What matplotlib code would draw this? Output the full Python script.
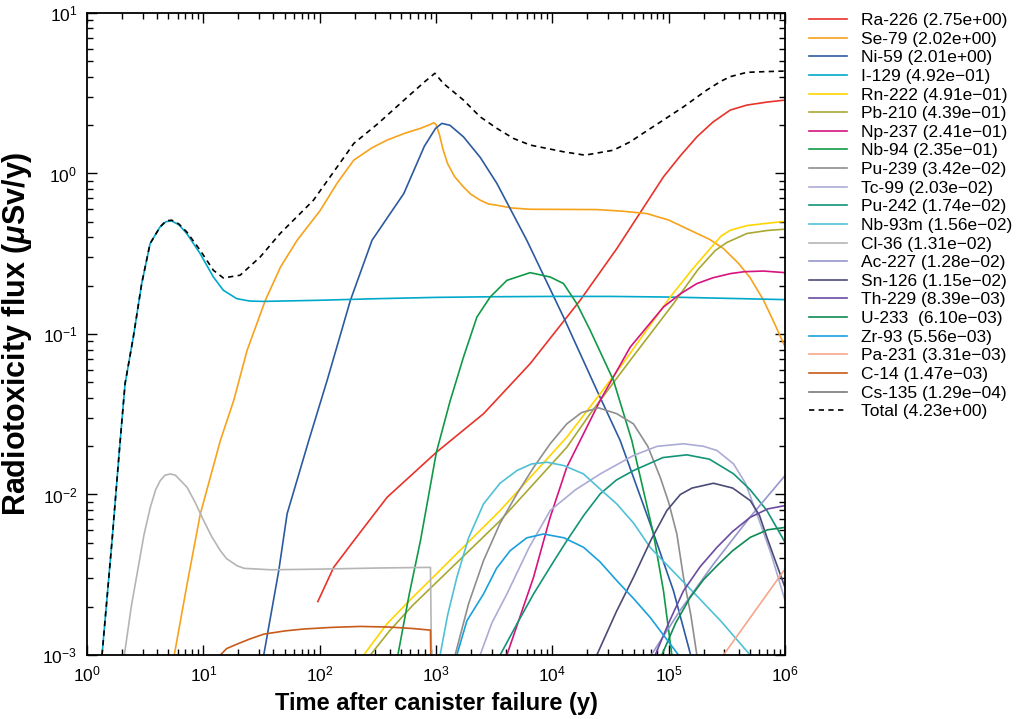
import matplotlib
matplotlib.use('Agg')
import matplotlib.pyplot as plt
import matplotlib.ticker as ticker
import numpy as np

plt.rcParams['font.family'] = ['Liberation Sans', 'DejaVu Sans']
plt.rcParams['mathtext.fontset'] = 'custom'
plt.rcParams['mathtext.rm'] = 'Liberation Sans'
plt.rcParams['mathtext.it'] = 'Liberation Sans:italic:bold'
plt.rcParams['mathtext.bf'] = 'Liberation Sans:bold'

# Werte: log10(Zeit in a) und log10(Fluss in uSv/a)
ra226_t = [1.984, 2.12, 2.293, 2.58, 3.003, 3.408, 3.809, 4.239, 4.554, 4.955, 5.1, 5.242, 5.38, 5.529, 5.672, 5.85, 6.0]
ra226_v = [-2.667, -2.454, -2.288, -2.017, -1.737, -1.497, -1.185, -0.79, -0.468, -0.021, 0.11, 0.228, 0.32, 0.395, 0.426, 0.445, 0.457]

se79_t = [0.75, 0.86, 0.974, 1.146, 1.261, 1.376, 1.533, 1.663, 1.806, 2.006, 2.15, 2.293, 2.45, 2.58, 2.73, 2.866, 2.95, 2.98,
          3.0, 3.03, 3.06, 3.1, 3.16, 3.236, 3.3, 3.379, 3.45, 3.523, 3.65, 3.809, 4.383, 4.6, 4.812, 5.0, 5.185,
          5.35, 5.471, 5.6, 5.70, 5.815, 5.9, 6.0]
se79_v = [-3.0, -2.558, -2.121, -1.664, -1.414, -1.102, -0.79, -0.583, -0.416, -0.229, -0.06, 0.083, 0.16, 0.208, 0.25, 0.281, 0.305, 0.316,
          0.305, 0.24, 0.15, 0.06, -0.02, -0.084, -0.13, -0.166, -0.19, -0.198, -0.215, -0.223, -0.225, -0.235, -0.25, -0.29, -0.354,
          -0.41, -0.468, -0.56, -0.65, -0.79, -0.92, -1.08]

ni59_t = [1.519, 1.648, 1.72, 1.906, 2.064, 2.264, 2.45, 2.723, 2.9, 2.995, 3.05, 3.12, 3.236, 3.38, 3.523, 3.78,
          4.096, 4.383, 4.583, 4.841, 5.041, 5.185]
ni59_v = [-3.0, -2.475, -2.12, -1.664, -1.289, -0.79, -0.416, -0.125, 0.17, 0.28, 0.312, 0.30, 0.228, 0.1, -0.062, -0.416,
          -0.895, -1.352, -1.664, -2.183, -2.6, -2.99]

i129_t = [0.129, 0.215, 0.278, 0.327, 0.398, 0.47, 0.542, 0.628, 0.68, 0.728, 0.79, 0.857, 0.972, 1.086, 1.172, 1.287,
          1.4, 1.516, 2.0, 2.5, 3.0, 3.5, 4.0, 4.5, 5.0, 5.5, 6.0]
i129_v = [-3.0, -2.288, -1.726, -1.31, -1.019, -0.686, -0.437, -0.333, -0.30, -0.296, -0.32, -0.374, -0.499, -0.645, -0.728, -0.78,
          -0.795, -0.797, -0.79, -0.78, -0.772, -0.768, -0.766, -0.766, -0.77, -0.778, -0.786]

rn222_t = [2.379, 2.45, 2.577, 2.8, 3.003, 3.551, 4.124, 4.411, 4.626, 5.013, 5.2, 5.357, 5.45, 5.529, 5.672, 5.85, 6.0]
rn222_v = [-3.0, -2.93, -2.807, -2.64, -2.495, -2.1, -1.643, -1.372, -1.164, -0.77, -0.6, -0.468, -0.39, -0.354, -0.325, -0.31, -0.298]

pb210_t = [2.436, 2.6, 2.8, 3.003, 3.551, 4.124, 4.325, 4.669, 5.041, 5.25, 5.40, 5.50, 5.672, 5.85, 6.0]
pb210_v = [-3.0, -2.85, -2.69, -2.548, -2.163, -1.706, -1.497, -1.164, -0.811, -0.6, -0.48, -0.43, -0.374, -0.355, -0.347]

np237_t = [3.609, 3.838, 3.981, 4.124, 4.411, 4.669, 4.955, 5.1, 5.242, 5.38, 5.529, 5.65, 5.815, 6.0]
np237_v = [-3.0, -2.516, -2.142, -1.83, -1.414, -1.082, -0.832, -0.75, -0.686, -0.65, -0.624, -0.612, -0.608, -0.618]

nb94_t = [2.672, 2.77, 2.866, 3.003, 3.12, 3.236, 3.351, 3.465, 3.609, 3.809, 3.981, 4.096, 4.21, 4.325, 4.525, 4.683,
          4.869, 4.955, 5.027]
nb94_v = [-3.0, -2.62, -2.288, -1.737, -1.42, -1.144, -0.895, -0.77, -0.666, -0.618, -0.645, -0.686, -0.811, -0.977, -1.289, -1.664,
          -2.246, -2.6, -3.0]

pu239_t = [3.164, 3.28, 3.408, 3.55, 3.695, 3.84, 3.981, 4.124, 4.25, 4.397, 4.554, 4.697, 4.82, 4.927, 5.0, 5.07, 5.127, 5.19, 5.242]
pu239_v = [-3.0, -2.68, -2.412, -2.18, -1.996, -1.83, -1.684, -1.56, -1.49, -1.46, -1.497, -1.56, -1.70, -1.893, -2.05, -2.246, -2.516, -2.75, -3.0]

tc99_t = [3.379, 3.48, 3.609, 3.8, 3.981, 4.2, 4.411, 4.697, 4.9, 5.127, 5.3, 5.415, 5.557, 5.66, 5.758, 5.88, 6.0]
tc99_v = [-3.0, -2.8, -2.62, -2.33, -2.1, -1.97, -1.872, -1.757, -1.70, -1.684, -1.70, -1.726, -1.809, -1.93, -2.121, -2.37, -2.66]

pu242_t = [3.551, 3.7, 3.838, 4.0, 4.124, 4.27, 4.411, 4.55, 4.697, 4.95, 5.156, 5.35, 5.557, 5.7, 5.844, 6.0]
pu242_v = [-3.0, -2.8, -2.62, -2.43, -2.288, -2.13, -1.996, -1.91, -1.851, -1.77, -1.753, -1.78, -1.871, -1.97, -2.1, -2.298]

nb93m_t = [3.035, 3.1, 3.179, 3.28, 3.408, 3.55, 3.695, 3.82, 3.953, 4.1, 4.268, 4.41, 4.554, 4.7, 4.841, 5.0, 5.2, 5.45, 5.70]
nb93m_v = [-3.0, -2.75, -2.516, -2.27, -2.059, -1.93, -1.851, -1.81, -1.799, -1.82, -1.872, -1.966, -2.059, -2.18, -2.33, -2.45, -2.6, -2.79, -3.0]

cl36_t = [0.321, 0.38, 0.43, 0.49, 0.544, 0.59, 0.63, 0.67, 0.716, 0.76, 0.86, 0.93, 1.003, 1.07, 1.146, 1.2, 1.29, 1.35,
          1.576, 2.0, 2.5, 2.952, 2.965]
cl36_v = [-3.0, -2.7, -2.495, -2.25, -2.08, -1.97, -1.913, -1.88, -1.872, -1.88, -1.955, -2.05, -2.163, -2.26, -2.35, -2.40, -2.444, -2.46,
          -2.469, -2.465, -2.458, -2.454, -3.3]

ac227_t = [4.85, 5.1, 5.385, 5.7, 6.0]
ac227_v = [-3.0, -2.72, -2.433, -2.14, -1.882]

sn126_t = [4.382, 4.55, 4.697, 4.85, 4.984, 5.1, 5.2, 5.385, 5.55, 5.701, 5.78, 5.844, 5.92, 6.0]
sn126_v = [-3.0, -2.73, -2.516, -2.28, -2.1, -2.0, -1.96, -1.93, -1.96, -2.038, -2.13, -2.267, -2.42, -2.58]

th229_t = [4.884, 5.0, 5.127, 5.27, 5.415, 5.55, 5.701, 5.85, 6.0]
th229_v = [-3.0, -2.8, -2.6, -2.45, -2.329, -2.23, -2.142, -2.09, -2.069]

u233_t = [4.941, 5.06, 5.185, 5.3, 5.415, 5.55, 5.701, 5.85, 6.0]
u233_v = [-3.0, -2.8, -2.641, -2.53, -2.444, -2.35, -2.267, -2.22, -2.205]

zr93_t = [3.179, 3.265, 3.408, 3.52, 3.637, 3.78, 3.924, 4.1, 4.268, 4.41, 4.554, 4.7, 4.841, 5.084]
zr93_v = [-3.0, -2.787, -2.62, -2.46, -2.35, -2.27, -2.246, -2.27, -2.329, -2.42, -2.537, -2.65, -2.766, -3.0]

pa231_t = [5.471, 6.0]
pa231_v = [-3.0, -2.464]

c14_t = [1.146, 1.2, 1.29, 1.4, 1.519, 1.7, 1.863, 2.1, 2.35, 2.6, 2.8, 2.952, 2.96]
c14_v = [-3.0, -2.96, -2.932, -2.90, -2.87, -2.85, -2.838, -2.828, -2.822, -2.826, -2.835, -2.845, -3.3]

cs135_t = [3.0, 4.0, 5.0, 6.0]
cs135_v = [-5.5, -4.5, -4.0, -3.89]

total_t = [0.129, 0.215, 0.278, 0.327, 0.398, 0.47, 0.542, 0.628, 0.68, 0.728, 0.79, 0.857, 0.972, 1.086, 1.172, 1.316,
           1.489, 1.66, 1.946, 2.233, 2.293, 2.5, 2.751, 2.9, 2.99, 3.063, 3.236, 3.379, 3.523, 3.666, 3.809, 4.096,
           4.28, 4.525, 4.669, 4.8, 4.955, 5.127, 5.328, 5.45, 5.529, 5.672, 5.815, 6.0]
total_v = [-3.0, -2.288, -1.726, -1.31, -1.019, -0.686, -0.437, -0.333, -0.295, -0.291, -0.315, -0.364, -0.478, -0.603, -0.651, -0.634,
           -0.52, -0.374, -0.167, 0.125, 0.187, 0.31, 0.474, 0.57, 0.624, 0.561, 0.457, 0.353, 0.281, 0.218, 0.177, 0.135,
           0.114, 0.145, 0.197, 0.26, 0.333, 0.415, 0.52, 0.575, 0.603, 0.63, 0.634, 0.638]

nuklide = [
    ('Ra-226 (2.75e+00)', ra226_t, ra226_v, '#e8332a'),
    ('Se-79 (2.02e+00)', se79_t, se79_v, '#f7a21b'),
    ('Ni-59 (2.01e+00)', ni59_t, ni59_v, '#2c5aa0'),
    ('I-129 (4.92e\u221201)', i129_t, i129_v, '#00a9cc'),
    ('Rn-222 (4.91e\u221201)', rn222_t, rn222_v, '#ffd500'),
    ('Pb-210 (4.39e\u221201)', pb210_t, pb210_v, '#a8a832'),
    ('Np-237 (2.41e\u221201)', np237_t, np237_v, '#d6137f'),
    ('Nb-94 (2.35e\u221201)', nb94_t, nb94_v, '#109a48'),
    ('Pu-239 (3.42e\u221202)', pu239_t, pu239_v, '#8e8e8e'),
    ('Tc-99 (2.03e\u221202)', tc99_t, tc99_v, '#ababd6'),
    ('Pu-242 (1.74e\u221202)', pu242_t, pu242_v, '#139477'),
    ('Nb-93m (1.56e\u221202)', nb93m_t, nb93m_v, '#4fc1d6'),
    ('Cl-36 (1.31e\u221202)', cl36_t, cl36_v, '#b5b5b5'),
    ('Ac-227 (1.28e\u221202)', ac227_t, ac227_v, '#9696cc'),
    ('Sn-126 (1.15e\u221202)', sn126_t, sn126_v, '#4b4b78'),
    ('Th-229 (8.39e\u221203)', th229_t, th229_v, '#6b4ba0'),
    ('U-233  (6.10e\u221203)', u233_t, u233_v, '#0e8a55'),
    ('Zr-93 (5.56e\u221203)', zr93_t, zr93_v, '#1aa0dc'),
    ('Pa-231 (3.31e\u221203)', pa231_t, pa231_v, '#f6a78a'),
    ('C-14 (1.47e\u221203)', c14_t, c14_v, '#c85a1a'),
    ('Cs-135 (1.29e\u221204)', cs135_t, cs135_v, '#7a7a7a'),
]

x_dekaden = [1e0, 1e1, 1e2, 1e3, 1e4, 1e5, 1e6]
y_dekaden = [1e-3, 1e-2, 1e-1, 1e0, 1e1]

fig = plt.figure(figsize=(10.25, 7.19), dpi=100)
ax = fig.add_axes([0.0849, 0.089, 0.681, 0.893])

for label, t, v, farbe in nuklide:
    ax.plot(10**np.array(t), 10**np.array(v), color=farbe, lw=1.2, label=label)
ax.plot(10**np.array(total_t), 10**np.array(total_v), color='black', lw=1.2,
        ls=(0, (3.2, 2.6)), label='Total (4.23e+00)')

ax.set_xscale('log')
ax.set_yscale('log')
ax.set_xlim(1, 1e6)
ax.set_ylim(1e-3, 1e1)
# nur sichtbare Dekaden als Hauptticks
ax.xaxis.set_major_locator(ticker.FixedLocator(x_dekaden))
ax.yaxis.set_major_locator(ticker.FixedLocator(y_dekaden))
ax.xaxis.set_major_formatter(ticker.LogFormatterSciNotation())
ax.yaxis.set_major_formatter(ticker.LogFormatterSciNotation())

ax.tick_params(which='both', direction='in', top=True, right=True, labelsize=12.5, width=1.0)
ax.tick_params(which='major', length=7, pad=7)
ax.tick_params(which='minor', length=4)
for s in ax.spines.values():
    s.set_linewidth(1.3)

ax.set_xlabel('Time after canister failure (y)', fontsize=17, fontweight='bold')
ax.set_ylabel(r'Radiotoxicity flux ($\mu$Sv/y)', fontsize=22, fontweight='bold')
ax.xaxis.set_label_coords(0.5, -0.058)
ax.yaxis.set_label_coords(-0.076, 0.5)

ax.legend(loc='upper left', bbox_to_anchor=(0.789, 0.982), bbox_transform=fig.transFigure,
          frameon=False, fontsize=12.5, handlelength=2.2, handletextpad=0.8,
          labelspacing=0.2, borderpad=0, borderaxespad=0)

fig.savefig('out.png', dpi=100)
